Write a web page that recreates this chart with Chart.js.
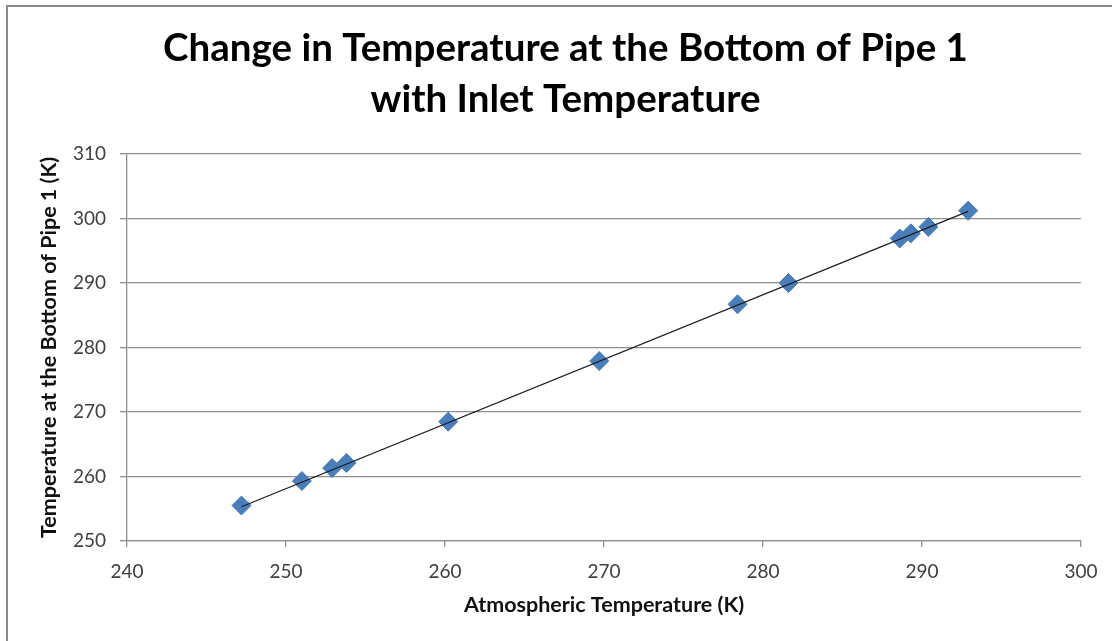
<!DOCTYPE html>
<html>
<head>
<meta charset="utf-8">
<script src="https://cdn.jsdelivr.net/npm/chart.js@4"></script>
<style>
  html, body { margin: 0; padding: 0; background: #fff; }
  #wrap { position: relative; width: 1112px; height: 641px; overflow: hidden; }
  #frame { position: absolute; left: 6px; top: 5px; width: 1200px; height: 700px;
           border-left: 2px solid #8c8c8c; border-top: 2px solid #8c8c8c; pointer-events: none; }
</style>
</head>
<body>
<div id="wrap">
  <canvas id="chart" width="1112" height="641"></canvas>
  <div id="frame"></div>
</div>
<script>
// values
const atmTemp  = [247.2, 251.0, 252.9, 253.8, 260.2, 269.7, 278.4, 281.6, 288.6, 289.3, 290.4, 292.9];
const pipeTemp = [255.5, 259.3, 261.3, 262.1, 268.5, 277.9, 286.7, 290.0, 296.9, 297.7, 298.7, 301.2];
// linear trend line, end points as drawn
const trendX = [247.2, 292.9];
const trendY = [255.3, 301.1];

const xTicks = [240, 250, 260, 270, 280, 290, 300];
const yTicks = [250, 260, 270, 280, 290, 300, 310];

const titleLines = ['Change in Temperature at the Bottom of Pipe 1', 'with Inlet Temperature'];
const xTitle = 'Atmospheric Temperature (K)';
const yTitle = 'Temperature at the Bottom of Pipe 1 (K)';

const FONT = 'Lato, "Open Sans", sans-serif';
const GRID = '#8e8e8e';

const points = atmTemp.map((x, i) => ({ x: x, y: pipeTemp[i] }));
const trend = trendX.map((x, i) => ({ x: x, y: trendY[i] }));

new Chart(document.getElementById('chart').getContext('2d'), {
    type: 'scatter',
    data: {
        datasets: [
            {
                data: trend,
                showLine: true,
                borderColor: '#1a1a1a',
                borderWidth: 1.2,
                pointRadius: 0,
                fill: false
            },
            {
                data: points,
                pointStyle: 'rectRot',
                pointRadius: 9.5,
                backgroundColor: '#4a7ebb',
                borderColor: '#4579b5',
                borderWidth: 1
            }
        ]
    },
    options: {
        responsive: false,
        animation: false,
        devicePixelRatio: 1,
        // left padding shifts the title centre; the y axis box fills the rest up to x=127
        layout: { padding: { left: 50, right: 31, top: 0, bottom: 0 } },
        plugins: {
            legend: { display: false },
            tooltip: { enabled: false },
            title: {
                display: true,
                text: titleLines,
                color: '#000',
                font: { family: FONT, size: 38.5, weight: 'bold', lineHeight: '51px' },
                padding: { top: 23, bottom: 29 }
            }
        },
        scales: {
            x: {
                type: 'linear',
                min: 240, max: 300,
                afterBuildTicks: s => { s.ticks = xTicks.map(v => ({ value: v })); },
                afterFit: s => { s.height = 100; },
                border: { display: true, color: GRID, width: 1.3 },
                grid: { drawOnChartArea: false, drawTicks: true, tickLength: 6, color: GRID, lineWidth: 1.3 },
                ticks: { color: '#404040', padding: 13, font: { family: FONT, size: 19 } },
                title: {
                    display: true, text: xTitle, color: '#111',
                    font: { family: FONT, size: 21.5, weight: 'bold' },
                    padding: { top: 0, bottom: 23 }
                }
            },
            y: {
                type: 'linear',
                min: 250, max: 310,
                afterBuildTicks: s => { s.ticks = yTicks.map(v => ({ value: v })); },
                afterFit: s => { s.width = 77; },
                border: { display: true, color: GRID, width: 1.3 },
                grid: { drawTicks: true, tickLength: 7, color: GRID, lineWidth: 1.3 },
                ticks: { color: '#404040', padding: 14, font: { family: FONT, size: 19 } },
                title: {
                    display: true, text: yTitle, color: '#111',
                    font: { family: FONT, size: 21.5, weight: 'bold' },
                    padding: { top: -14, bottom: 0 }
                }
            }
        }
    }
});
</script>
</body>
</html>
